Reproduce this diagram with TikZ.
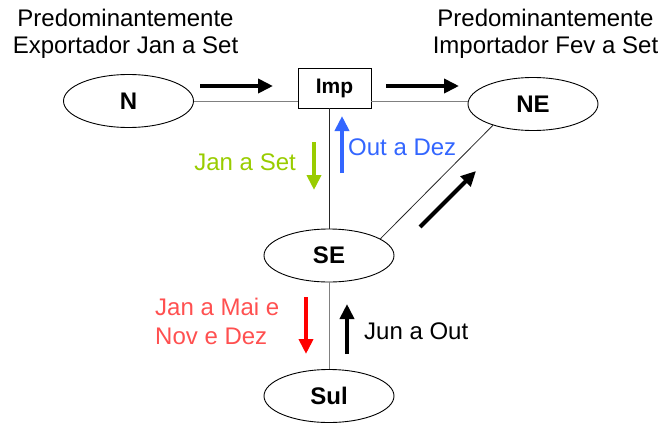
\documentclass[tikz,border=0pt]{standalone}
\usepackage{fontspec}
\setmainfont{Liberation Sans}
\usetikzlibrary{shapes.geometric,arrows.meta}
\definecolor{limeg}{RGB}{153,204,0}
\definecolor{skyb}{RGB}{51,102,255}
\definecolor{salmonr}{RGB}{255,80,80}
\tikzset{
  region/.style={draw=black, line width=0.9pt, ellipse, minimum width=130pt,
    minimum height=53pt, inner sep=0pt, font=\fontsize{24}{28}\selectfont\bfseries},
  hub/.style={draw=black, line width=0.9pt, rectangle, minimum width=73pt,
    minimum height=40pt, inner sep=0pt, font=\fontsize{21}{25}\selectfont\bfseries},
  link/.style={draw=gray, line width=0.9pt},
  darklink/.style={draw=black!85, line width=0.8pt},
  flow/.style={line width=4pt, -{Triangle[length=15pt,width=14pt]}},
  caption/.style={inner sep=0pt, font=\fontsize{24}{27}\selectfont}
}
\begin{document}
\begin{tikzpicture}[x=1pt,y=-1pt]
\useasboundingbox (0,0) rectangle (660,423);

% regions and the import hub
\node[region] (N)   at (128.5,101) {N};
\node[hub]    (Imp) at (334.5,88) {Imp};
\node[region] (NE)  at (533,104) {NE};
\node[region] (SE)  at (329,255.5) {SE};
\node[region] (Sul) at (329,396) {Sul};

% connections between regions
\draw[link] (N.east) -- (N.east -| Imp.west);
\draw[link] (Imp.east |- N.east) -- (N.east -| NE.west);
\draw[darklink] (Imp.south -| SE.north) -- (SE.north);
\draw[darklink] (SE.18) -- (NE.208);
\draw[link] (SE.south) -- (Sul.north);

% flow directions
\draw[flow, black] (200,86) -- (273,86);
\draw[flow, black] (386,86) -- (459,86);
\draw[flow, black] (420,227) -- (476,171);
\draw[flow, limeg] (314,142) -- (314,190);
\draw[flow, skyb] (342,173) -- (342,116);
\draw[flow, red] (306,297) -- (306,354);
\draw[flow, black] (347,354) -- (347,304);

% period labels
\node[caption, align=center] (capN) at (125.5,34)
  {Predominantemente\\Exportador Jan a Set};
\node[caption, align=center] (capNE) at (545.5,34)
  {Predominantemente\\Importador Fev a Set};
\node[caption, text=limeg, anchor=base east] (lblA) at (296,170.7) {Jan a Set};
\node[caption, text=skyb, anchor=base west] (lblB) at (348,155) {Out a Dez};
\node[caption, text=salmonr, align=left, anchor=west,
  font=\fontsize{24}{29}\selectfont] (lblC) at (155,321) {Jan a Mai e\\Nov e Dez};
\node[caption, anchor=base west] (lblD) at (364,339.3) {Jun a Out};
\end{tikzpicture}
\end{document}
